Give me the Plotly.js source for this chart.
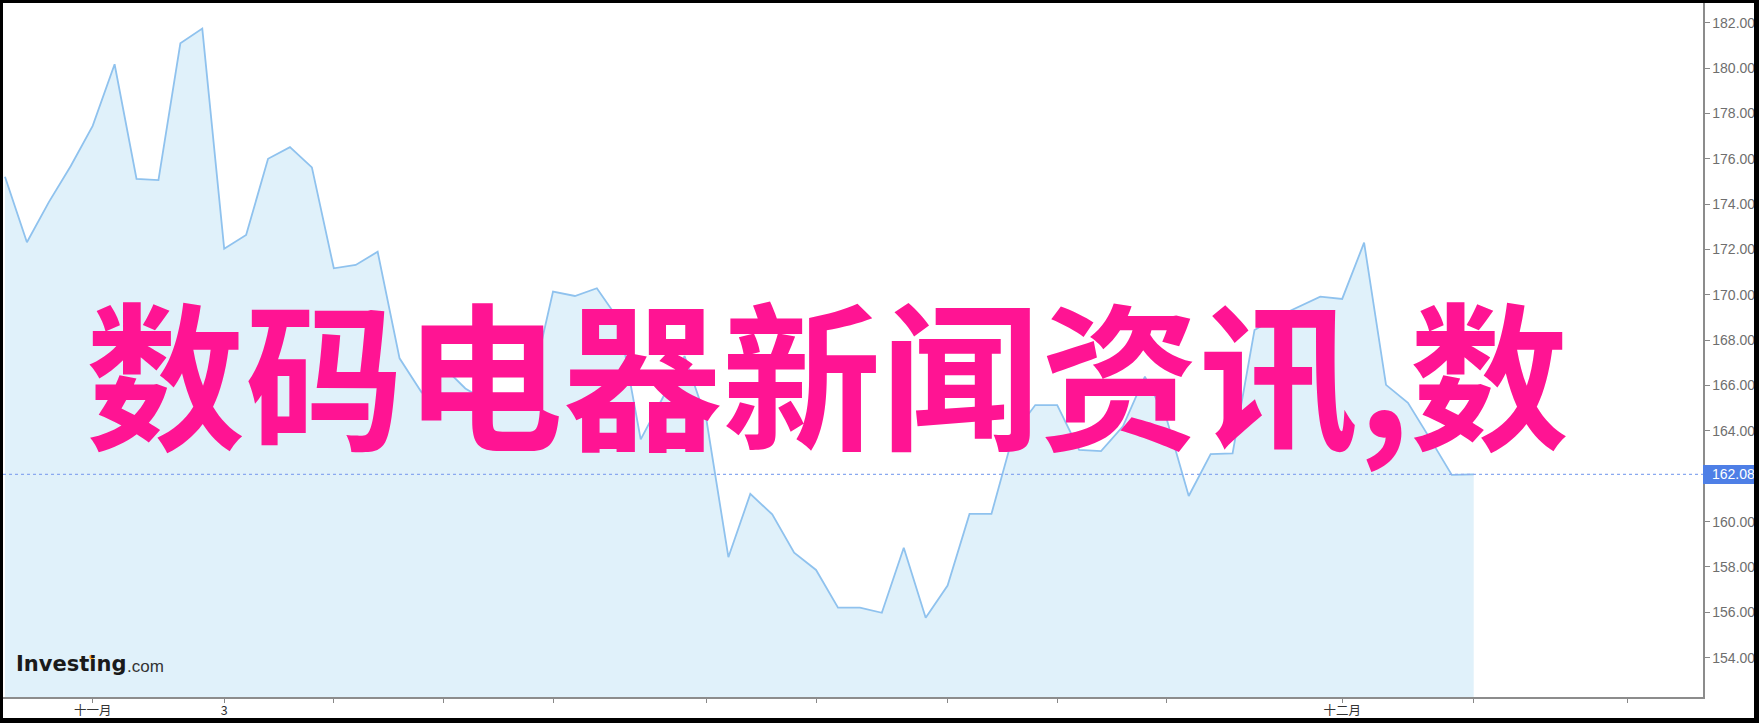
<!DOCTYPE html>
<html>
<head>
<meta charset="utf-8">
<script src="https://cdn.plot.ly/plotly-3.0.1.min.js"></script>
<style>
  html, body { margin: 0; padding: 0; background: #000; }
  #chart { position: absolute; left: 3px; top: 3px; width: 1751px; height: 715px; background: #fff; }
</style>
</head>
<body>
<div id="chart"></div>
<script>
// ---- data ----
const prices = [
  175.21, 172.32, 174.09, 175.68, 177.45, 180.17, 175.11, 175.06, 181.09, 181.74,
  172.03, 172.64, 176.00, 176.51, 175.62, 171.17, 171.32, 171.90, 167.20, 165.70,
  166.83, 165.87, 165.30, 165.10, 165.89, 170.14, 169.95, 170.29, 168.90, 163.63,
  165.45, 167.30, 164.48, 158.43, 161.22, 160.32, 158.63, 157.87, 156.21, 156.21,
  155.98, 158.85, 155.76, 157.18, 160.34, 160.34, 163.85, 165.14, 165.14, 163.16,
  163.11, 164.20, 166.39, 164.50, 161.13, 162.98, 163.01, 168.45, 169.01, 169.48,
  169.92, 169.82, 172.30, 166.03, 165.24, 163.67, 162.06, 162.08
];
const tickIdx = [4, 10, 15, 20, 25, 32, 37, 43, 48, 53, 61, 67, 74];
const tickText = ['十一月', '3', '', '', '', '', '', '', '', '', '十二月', '', ''];
const yTickVals = [154, 156, 158, 160, 164, 166, 168, 170, 172, 174, 176, 178, 180, 182];
const yTickText = ['154.00', '156.00', '158.00', '160.00', '164.00', '166.00', '168.00',
                   '170.00', '172.00', '174.00', '176.00', '178.00', '180.00', '182.00'];
const lastPrice = 162.08;
const lastPriceText = '162.08';
const watermark = '数码电器新闻资讯,数';

const idx = prices.map((_, i) => i);

const trace = {
  type: 'scatter',
  mode: 'lines',
  x: idx,
  y: prices,
  line: { color: '#8fc2ee', width: 1.8 },
  fill: 'tozeroy',
  fillcolor: '#e0f1fa',
  hoverinfo: 'skip'
};

const layout = {
  width: 1751,
  height: 715,
  margin: { l: 0, r: 51, t: 0, b: 21, pad: 0 },
  paper_bgcolor: '#ffffff',
  plot_bgcolor: '#ffffff',
  showlegend: false,
  xaxis: {
    range: [-0.091, 77.46],
    tickmode: 'array',
    tickvals: tickIdx,
    ticktext: tickText,
    ticks: 'outside',
    ticklen: 4,
    tickcolor: '#888888',
    ticklabelstandoff: -3,
    showline: true,
    linecolor: '#8c8c8c',
    linewidth: 1.5,
    showgrid: false,
    zeroline: false,
    tickfont: { family: 'Noto Sans CJK SC', size: 12.5, color: '#333333' },
    fixedrange: true
  },
  yaxis: {
    side: 'right',
    range: [152.267, 182.869],
    tickmode: 'array',
    tickvals: yTickVals,
    ticktext: yTickText,
    ticks: 'outside',
    ticklen: 5,
    tickcolor: '#888888',
    showline: true,
    linecolor: '#8c8c8c',
    linewidth: 1.5,
    showgrid: false,
    zeroline: false,
    tickfont: { family: 'Liberation Sans, Arial, sans-serif', size: 14, color: '#6e6e6e' },
    fixedrange: true
  },
  shapes: [
    {
      type: 'line', xref: 'paper', yref: 'y',
      x0: 0, x1: 1, y0: lastPrice, y1: lastPrice,
      line: { color: '#8aa9f0', width: 1.3, dash: 'dot' }
    },
    {
      type: 'rect', xref: 'paper', yref: 'y',
      x0: 1, x1: 1.04, y0: lastPrice - 0.42, y1: lastPrice + 0.42,
      fillcolor: '#4e7fe6', line: { width: 0 }
    }
  ],
  annotations: [
    {
      xref: 'paper', yref: 'y', x: 1, y: lastPrice,
      xanchor: 'left', yanchor: 'middle', xshift: 7,
      text: lastPriceText, showarrow: false,
      font: { family: 'Liberation Sans, Arial, sans-serif', size: 14, color: '#ffffff' }
    },
    {
      xref: 'paper', yref: 'paper', x: 0.0476, y: 0.472,
      xanchor: 'left', yanchor: 'middle',
      text: watermark, showarrow: false,
      font: { family: 'Noto Sans CJK SC', size: 159, color: '#ff1493', weight: 700 }
    },
    {
      xref: 'paper', yref: 'paper', x: 0.0065, y: 0.0476,
      xanchor: 'left', yanchor: 'middle',
      text: '<b>Investing</b>', showarrow: false,
      font: { family: 'DejaVu Sans', size: 21, color: '#1a1a1a' }
    },
    {
      xref: 'paper', yref: 'paper', x: 0.0718, y: 0.0440,
      xanchor: 'left', yanchor: 'middle',
      text: '.com', showarrow: false,
      font: { family: 'Liberation Sans, Arial, sans-serif', size: 17, color: '#333333' }
    }
  ]
};

layout.shapes.push({
  type: 'circle', xref: 'paper', yref: 'paper',
  x0: 0.0507, x1: 0.0537, y0: 0.0545, y1: 0.0610,
  fillcolor: '#f7a21b', line: { width: 0 }
});

Plotly.newPlot('chart', [trace], layout, { displayModeBar: false, staticPlot: true });
</script>
</body>
</html>
